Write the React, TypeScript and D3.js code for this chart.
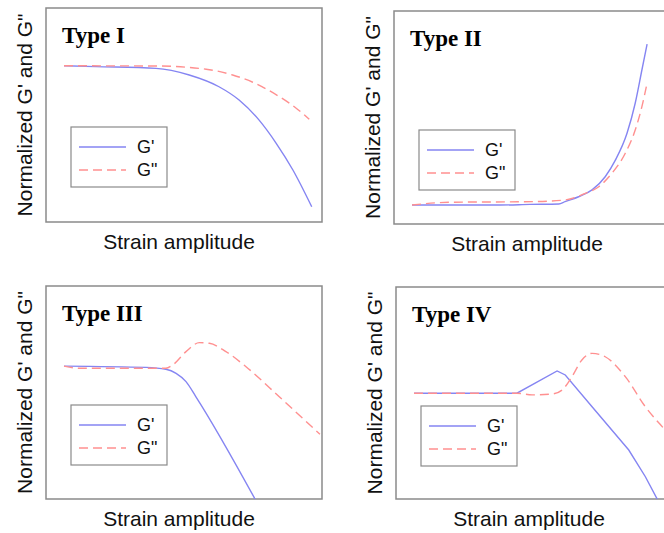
import React, { useRef, useEffect } from "react"
import * as d3 from "d3"

// strain positions (0-100 across the data range) and normalized moduli (0-100 of panel height)
const titles = ["Type I", "Type II", "Type III", "Type IV"]
const xLabel = "Strain amplitude"
const yLabel = "Normalized G' and G\""
const legendLabels = ["G'", "G\""]

const strainG1a = [0, 12.9, 37.1, 50.5, 62.5, 70.6, 78.6, 85.5, 92.3, 99.9]
const gPrime1 = [73.0, 72.6, 71.8, 68.7, 63.2, 57.0, 47.7, 36.9, 24.3, 7.1]
const strainG1b = [0, 37.1, 57.3, 68.0, 76.1, 86.8, 93.5, 98.9]
const gDouble1 = [73.0, 72.9, 71.4, 68.7, 65.3, 58.6, 53.3, 48.0]

const strainG2a = [0, 35.5, 47.6, 59.2, 61.7, 67.2, 72.6, 77.9, 82.0, 86.7, 90.0, 92.7, 94.8]
const gPrime2 = [8.9, 8.9, 9.2, 9.4, 10.5, 12.8, 16.0, 22.2, 30.0, 42.6, 56.7, 72.3, 84.5]
const strainG2b = [0, 14.8, 48.4, 61.8, 69.9, 75.3, 80.6, 86.0, 90.0, 92.7, 94.5]
const gDouble2 = [8.9, 10.2, 10.5, 11.3, 14.4, 17.5, 23.8, 33.2, 44.1, 55.1, 64.5]

const strainG3a = [0, 33.1, 41.1, 45.2, 49.2, 53.2, 77.5]
const gPrime3 = [62.4, 61.8, 60.9, 59.0, 55.1, 48.0, -1]
const strainG3b = [0, 6.2, 41.1, 43.8, 49.2, 54.6, 58.6, 65.3, 73.4, 86.8, 103.2]
const gDouble3 = [62.4, 61.4, 61.4, 62.9, 69.2, 73.4, 73.1, 69.2, 62.1, 48.0, 30.4]

const strainG4a = [0, 41.5, 57.7, 61.0, 71.8, 86.6, 93.3, 98.5]
const gPrime4 = [49.9, 49.9, 60.4, 58.5, 43.5, 23.1, 10.5, -1]
const strainG4b = [0, 41.5, 47.6, 55.6, 59.7, 63.7, 67.7, 71.8, 77.1, 85.2, 93.3, 101.3, 107]
const gDouble4 = [49.9, 49.9, 49.1, 49.5, 51.4, 57.7, 65.6, 68.7, 67.1, 57.7, 43.5, 32.5, 25]

const series = [
  [strainG1a, gPrime1, strainG1b, gDouble1],
  [strainG2a, gPrime2, strainG2b, gDouble2],
  [strainG3a, gPrime3, strainG3b, gDouble3],
  [strainG4a, gPrime4, strainG4b, gDouble4],
]

// panel boxes: left, top, bottom
const boxes = [
  { left: 46, top: 8, bottom: 222 },
  { left: 394, top: 11, bottom: 224 },
  { left: 46, top: 286, bottom: 499 },
  { left: 396, top: 287, bottom: 499 },
]
const boxW = 276

const blue = "#8585f2"
const red = "#ff9090"

const App = () => {
  const ref = useRef()

  useEffect(() => {
    const svg = d3.select(ref.current)
    svg.selectAll("*").remove()

    boxes.forEach((b, i) => {
      const g = svg.append("g")
      const x = d3.scaleLinear().domain([0, 100]).range([b.left + 18, b.left + 266])
      const y = d3.scaleLinear().domain([0, 100]).range([b.bottom, b.top])

      g.append("clipPath").attr("id", "clip" + i)
        .append("rect").attr("x", b.left).attr("y", b.top)
        .attr("width", boxW).attr("height", b.bottom - b.top)

      g.append("rect")
        .attr("x", b.left).attr("y", b.top)
        .attr("width", boxW).attr("height", b.bottom - b.top)
        .attr("fill", "white").attr("stroke", "#8a8a8a").attr("stroke-width", 1.5)

      const [xa, ya, xb, yb] = series[i]
      const line = d3.line().curve(i === 3 ? d3.curveLinear : d3.curveMonotoneX)
        .x(d => x(d[0])).y(d => y(d[1]))
      const lineB = d3.line().curve(d3.curveMonotoneX)
        .x(d => x(d[0])).y(d => y(d[1]))

      const plot = g.append("g").attr("clip-path", `url(#clip${i})`)
      plot.append("path")
        .attr("d", line(xa.map((v, k) => [v, ya[k]])))
        .attr("fill", "none").attr("stroke", blue).attr("stroke-width", 1.4)
      plot.append("path")
        .attr("d", lineB(xb.map((v, k) => [v, yb[k]])))
        .attr("fill", "none").attr("stroke", red).attr("stroke-width", 1.4)
        .attr("stroke-dasharray", "9,5")

      // title
      g.append("text")
        .attr("x", b.left + 16).attr("y", b.top + 35)
        .attr("font-family", "'Liberation Serif', 'Times New Roman', serif")
        .attr("font-weight", "bold").attr("font-size", 23)
        .text(titles[i])

      // legend
      const lx = b.left + 25, ly = b.top + 119
      g.append("rect")
        .attr("x", lx).attr("y", ly).attr("width", 96).attr("height", 60)
        .attr("fill", "white").attr("stroke", "#8a8a8a").attr("stroke-width", 1.2)
      legendLabels.forEach((lab, k) => {
        g.append("line")
          .attr("x1", lx + 8).attr("x2", lx + 55)
          .attr("y1", ly + 20 + k * 23).attr("y2", ly + 20 + k * 23)
          .attr("stroke", k === 0 ? blue : red).attr("stroke-width", 1.4)
          .attr("stroke-dasharray", k === 0 ? null : "9,5")
        g.append("text")
          .attr("x", lx + 66).attr("y", ly + 26 + k * 23)
          .attr("font-family", "'Liberation Sans', Arial, sans-serif")
          .attr("font-size", 18).attr("fill", "#111")
          .text(lab)
      })

      // axis labels
      g.append("text")
        .attr("x", b.left + 133).attr("y", b.bottom + 27)
        .attr("text-anchor", "middle")
        .attr("font-family", "'Liberation Sans', Arial, sans-serif")
        .attr("font-size", 21).attr("fill", "#111")
        .text(xLabel)
      g.append("text")
        .attr("transform", `translate(${b.left - 14},${(b.top + b.bottom) / 2}) rotate(-90)`)
        .attr("text-anchor", "middle")
        .attr("font-family", "'Liberation Sans', Arial, sans-serif")
        .attr("font-size", 21).attr("fill", "#111")
        .text(yLabel)
    })
  }, [])

  return (
    <svg ref={ref} width={664} height={533}
      style={{ position: "absolute", left: 0, top: 0, background: "white" }} />
  )
}

export default App
